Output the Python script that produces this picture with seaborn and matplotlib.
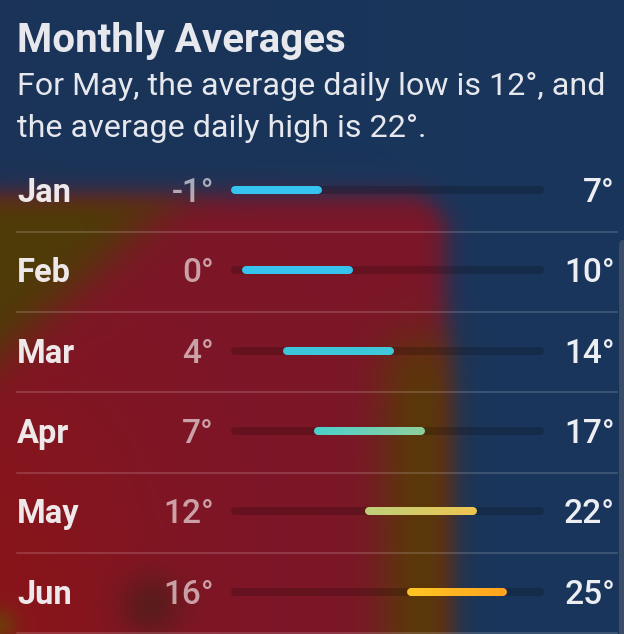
import numpy as np
import matplotlib.pyplot as plt
import seaborn as sns
from matplotlib.collections import LineCollection
from matplotlib.patches import FancyBboxPatch

# === DATA ===
months = ["Jan", "Feb", "Mar", "Apr", "May", "Jun"]
lows = [-1, 0, 4, 7, 12, 16]
highs = [7, 10, 14, 17, 22, 25]
range_min, range_max = -1, 28.5

title = "Monthly Averages"
subtitle = ["For May, the average daily low is 12°, and",
            "the average daily high is 22°."]

# bar colours (start -> end of each bar)
bar_start = ["#36c4f2", "#36c4ee", "#3bc6dc", "#4ecfc9", "#c0cf7a", "#ffc422"]
bar_end = ["#36c4f2", "#36c4ee", "#3ec8da", "#8ccf9e", "#ecc552", "#ffa51f"]

W, H, DPI = 624, 634, 100

sns.set_theme(style="white")
plt.rcParams['font.family'] = ['Roboto', 'DejaVu Sans']

fig = plt.figure(figsize=(W / DPI, H / DPI), dpi=DPI)

# === BACKGROUND (blurred weather map) ===
yy, xx = np.mgrid[0:H, 0:W].astype(float)

def sig(v):
    return 1 / (1 + np.exp(-v))

def rgb(h):
    h = h.lstrip('#')
    return np.array([int(h[i:i + 2], 16) / 255 for i in (0, 2, 4)])

img = rgb("#1e2f50") * (1 - xx / W)[..., None] * 0.35 + rgb("#19365c") * (0.65 + 0.35 * xx / W)[..., None]

# red area with rounded top-right corner
cx, cy, rad = 405, 235, 40
dx = np.clip(xx - cx, 0, None)
dy = np.clip(cy - yy, 0, None)
dist = np.sqrt(dx ** 2 + dy ** 2) - rad
red_mask = sig(-dist / 7)
red = rgb("#7c1628") * np.ones_like(img)
red = red + (rgb("#8c1416") - rgb("#7c1628")) * sig((120 - xx) / 60)[..., None] * sig((yy - 400) / 80)[..., None]
img = img * (1 - red_mask[..., None]) + red * red_mask[..., None]

# olive patch top-left
olive_mask = sig((170 - xx - (yy - 200) * 1.1) / 18) * sig((yy - 200) / 6)
img = img * (1 - olive_mask[..., None]) + rgb("#4e3c08") * olive_mask[..., None]

# brown strip on the right of the red area
strip = sig((xx - 385) / 12) * sig((448 - xx) / 8) * sig((yy - 340) / 15)
img = img * (1 - strip[..., None]) + rgb("#583a08") * strip[..., None]

# dark spot and corner
spot = np.exp(-((xx - 150) ** 2 + (yy - 605) ** 2) / (2 * 22 ** 2)) * 0.7
img = img * (1 - spot[..., None]) + rgb("#4a1e1a") * spot[..., None]
corner = np.exp(-(xx ** 2 + (yy - 625) ** 2) / (2 * 12 ** 2)) * 0.8
img = img * (1 - corner[..., None]) + rgb("#6a4008") * corner[..., None]

bg = fig.add_axes([0, 0, 1, 1])
bg.imshow(np.clip(img, 0, 1), extent=[0, W, H, 0], aspect='auto', interpolation='bilinear')
bg.set_axis_off()

# scroll panel edge
bg.add_patch(FancyBboxPatch((619, 240), 12, 420, boxstyle="round,pad=0,rounding_size=5",
                            fc="#44526a", ec="none", alpha=0.8))

# === CHART AXES ===
px_per_deg = 10.31
x0 = 245.7
row_top, row_h = 190, 80.3
ax = fig.add_axes([0, 0, 1, 1], facecolor="none")
ax.set_xlim(-x0 / px_per_deg, (W - x0) / px_per_deg)
ax.set_ylim((H - row_top) / row_h, -row_top / row_h)
ax.set_axis_off()

ytr = ax.get_yaxis_transform()
lw = 8 * 72 / DPI

for i, (m, lo, hi) in enumerate(zip(months, lows, highs)):
    # track
    ax.plot([range_min, range_max], [i, i], color="black", alpha=0.18, lw=lw,
            solid_capstyle='round')
    # gradient bar
    pal = sns.blend_palette([bar_start[i], bar_end[i]], n_colors=40)
    xs = np.linspace(lo, hi, 41)
    segs = [[(xs[k], i), (xs[k + 1], i)] for k in range(40)]
    ax.plot([lo, lo + 0.3], [i, i], color=bar_start[i], lw=lw, solid_capstyle='round')
    ax.plot([hi - 0.3, hi], [i, i], color=bar_end[i], lw=lw, solid_capstyle='round')
    ax.add_collection(LineCollection(segs, colors=pal, linewidths=lw, capstyle='butt'))

    # labels
    base = i + 12 / row_h
    ax.text(17 / W, base, m, transform=ytr, ha='left', va='baseline',
            fontsize=23.5, fontweight='bold', color="#eee8ea")
    ax.text(214 / W, base, f"{lo}°", transform=ytr, ha='right', va='baseline',
            fontsize=24, fontweight='medium', color="white", alpha=0.6)
    ax.text(615 / W, base, f"{hi}°", transform=ytr, ha='right', va='baseline',
            fontsize=24, fontweight='medium', color="#eceef2")
    # separator
    ax.plot([17 / W, 617 / W], [i + 0.52, i + 0.52], transform=ytr,
            color="white", alpha=0.15, lw=1.5)

# === TITLE ===
fig.text(17 / W, 1 - 52 / H, title, ha='left', va='baseline', fontsize=29,
         fontweight='bold', color="#e6e8ee")
fig.text(17 / W, 1 - 95 / H, subtitle[0], ha='left', va='baseline', fontsize=23.2,
         color="#e6e8ee")
fig.text(17 / W, 1 - 137 / H, subtitle[1], ha='left', va='baseline', fontsize=23.2,
         color="#e6e8ee")

fig.savefig("out.png", dpi=DPI)
